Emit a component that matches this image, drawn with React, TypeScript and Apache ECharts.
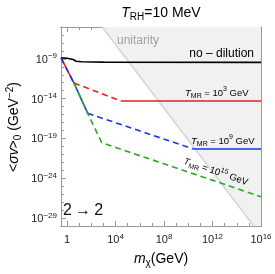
import React, { useEffect, useRef } from "react";
import * as echarts from "echarts";

const FONT = "'Liberation Sans', Arial, sans-serif";

// axis ranges (log10 units)
const X_MIN = -0.5;
const X_MAX = 16;
const Y_MIN = -30;
const Y_MAX = -5;

const xMajorTicks = [0, 4, 8, 12, 16];
const xMinorTicks = [0, 1, 2, 3, 4, 5, 6, 7, 8, 9, 10, 11, 12, 13, 14, 15, 16];
const yMajorTicks = [-29, -24, -19, -14, -9];
const yMinorTicks = [-30, -29, -28, -27, -26, -25, -24, -23, -22, -21, -20, -19, -18, -17, -16, -15, -14, -13, -12, -11, -10, -9, -8, -7, -6, -5];

// curves: [log10 m, log10 <sigma v>]
const noDilution = [[-0.5, -8.88], [0, -8.92], [0.5, -9.08], [0.75, -9.3], [1.2, -9.37], [3, -9.41], [16, -9.44]];
const redSteep = [[-0.5, -8.89], [0.57, -12.04]];
const redDashed = [[0.57, -12.04], [4.45, -14.3]];
const redFlat = [[4.45, -14.3], [16, -14.3]];
const blueSteepDashed = [[-0.5, -8.89], [0.57, -12.04]];
const blueSteep = [[0.57, -12.04], [1.7, -15.84]];
const blueDashed = [[1.7, -15.84], [10.42, -20.33]];
const blueFlat = [[10.42, -20.33], [16, -20.33]];
const greenDashed = [[0.57, -12.04], [1.7, -15.84], [2.86, -19.54], [16, -26.32]];

// unitarity boundary: [log10 m at top, log10 m at bottom]
const unitarityX = [2.9, 15.4];
const unitarityY = [Y_MAX, Y_MIN];

const RED = "#ee1c1c";
const BLUE = "#1a33ee";
const GREEN = "#2aaa22";
const FRAME = "#999999";

const supRich = {
  b: { fontSize: 11, fontFamily: FONT, color: "#222", lineHeight: 14, verticalAlign: "middle" },
  s: { fontSize: 8, fontFamily: FONT, color: "#222", lineHeight: 8, verticalAlign: "top" },
};

function powLabel(v: number) {
  if (v === 0) return "{b|1}";
  const e = v < 0 ? "\u2212" + Math.abs(v) : String(v);
  return "{b|10}{s|" + e + "}";
}

function xAxis(position: string, ticks: number[], len: number, labels: boolean) {
  return {
    type: "value",
    position,
    min: X_MIN,
    max: X_MAX,
    axisLine: { show: true, onZero: false, lineStyle: { color: FRAME, width: 1 } },
    axisTick: { show: true, inside: true, length: len, customValues: ticks, lineStyle: { color: FRAME, width: 1 } },
    axisLabel: labels
      ? { show: true, customValues: xMajorTicks, formatter: (v: number) => powLabel(v), rich: supRich, margin: 6 }
      : { show: false },
    splitLine: { show: false },
  };
}

function yAxis(position: string, ticks: number[], len: number, labels: boolean) {
  return {
    type: "value",
    position,
    min: Y_MIN,
    max: Y_MAX,
    axisLine: { show: true, onZero: false, lineStyle: { color: FRAME, width: 1 } },
    axisTick: { show: true, inside: true, length: len, customValues: ticks, lineStyle: { color: FRAME, width: 1 } },
    axisLabel: labels
      ? { show: true, customValues: yMajorTicks, formatter: (v: number) => powLabel(v), rich: supRich, margin: 4 }
      : { show: false },
    splitLine: { show: false },
  };
}

function line(data: number[][], color: string, dashed: boolean, z: number) {
  return {
    type: "line",
    data,
    xAxisIndex: 0,
    yAxisIndex: 0,
    showSymbol: false,
    symbol: "none",
    silent: true,
    z,
    lineStyle: { color, width: 1.6, type: dashed ? [6, 4] : "solid" },
  };
}

export default function App() {
  const ref = useRef<HTMLDivElement>(null);
  useEffect(() => {
    if (!ref.current) return;
    const chart = echarts.init(ref.current, null, { renderer: "svg" });
    const subRich = (size: number, color: string) => ({
      n: { fontSize: size, fontFamily: FONT, color, lineHeight: size + 4, verticalAlign: "middle" },
      i: { fontSize: size, fontFamily: FONT, color, fontStyle: "italic", lineHeight: size + 4, verticalAlign: "middle" },
      sub: { fontSize: Math.round(size * 0.7), fontFamily: FONT, color, lineHeight: Math.round(size * 0.7), verticalAlign: "bottom" },
      sup: { fontSize: Math.round(size * 0.7), fontFamily: FONT, color, lineHeight: Math.round(size * 0.7), verticalAlign: "top" },
    });
    const option: any = {
      animation: false,
      grid: { left: 61, top: 27, width: 200, height: 199, containLabel: false },
      xAxis: [
        xAxis("bottom", xMajorTicks, 5, true),
        xAxis("bottom", xMinorTicks, 3, false),
        xAxis("top", xMajorTicks, 5, false),
        xAxis("top", xMinorTicks, 3, false),
      ],
      yAxis: [
        yAxis("left", yMajorTicks, 5, true),
        yAxis("left", yMinorTicks, 3, false),
        yAxis("right", yMajorTicks, 5, false),
        yAxis("right", yMinorTicks, 3, false),
      ],
      series: [
        {
          type: "custom",
          xAxisIndex: 0,
          yAxisIndex: 0,
          silent: true,
          z: 1,
          data: [[unitarityX[0], unitarityY[0]]],
          renderItem: (params: any, api: any) => {
            const pts = [
              api.coord([unitarityX[0], unitarityY[0]]),
              api.coord([X_MAX, Y_MAX]),
              api.coord([X_MAX, Y_MIN]),
              api.coord([unitarityX[1], unitarityY[1]]),
            ];
            return { type: "polygon", shape: { points: pts }, style: { fill: "#f1f1f1" } };
          },
        },
        line([[unitarityX[0], unitarityY[0]], [unitarityX[1], unitarityY[1]]], "#d6d6d6", false, 2),
        line(noDilution, "#000000", false, 3),
        line(redSteep, RED, false, 3),
        line(redDashed, RED, true, 3),
        line(redFlat, RED, false, 3),
        line(blueSteepDashed, BLUE, true, 4),
        line(blueSteep, BLUE, false, 4),
        line(blueDashed, BLUE, true, 4),
        line(blueFlat, BLUE, false, 4),
        line(greenDashed, GREEN, true, 5),
      ],
      graphic: [
        {
          type: "text", x: 161, y: 12, z: 100,
          style: { text: "{i|T}{sub|RH}{n|=10 MeV}", align: "center", verticalAlign: "middle", rich: subRich(14, "#111") },
        },
        {
          type: "text", x: 138, y: 40, z: 100,
          style: { text: "unitarity", align: "center", verticalAlign: "middle", font: "12px " + FONT, fill: "#a0a0a0" },
        },
        {
          type: "text", x: 254, y: 53, z: 100,
          style: { text: "no \u2013 dilution", align: "right", verticalAlign: "middle", font: "12px " + FONT, fill: "#000" },
        },
        {
          type: "text", x: 185, y: 92, z: 100,
          style: { text: "{i|T}{sub|MR}{n| = 10}{sup|3}{n| GeV}", align: "left", verticalAlign: "middle", rich: subRich(9.5, RED) },
        },
        {
          type: "text", x: 191, y: 140, z: 100,
          style: { text: "{i|T}{sub|MR}{n| = 10}{sup|9}{n| GeV}", align: "left", verticalAlign: "middle", rich: subRich(9.5, BLUE) },
        },
        {
          type: "text", x: 216, y: 171, z: 100, rotation: -0.33,
          style: { text: "{i|T}{sub|MR}{n| = 10}{sup|15}{n| GeV}", align: "center", verticalAlign: "middle", rich: subRich(9.5, GREEN) },
        },
        {
          type: "text", x: 63, y: 209, z: 100,
          style: { text: "2\u2009\u2192\u20092", align: "left", verticalAlign: "middle", font: "16px " + FONT, fill: "#111" },
        },
        {
          type: "text", x: 161, y: 258, z: 100,
          style: { text: "{i|m}{sub|\u03c7}{n|(GeV)}", align: "center", verticalAlign: "middle", rich: subRich(14, "#111") },
        },
        {
          type: "text", x: 13, y: 127, z: 100, rotation: Math.PI / 2,
          style: { text: "{n|<}{i|\u03c3v}{n|>}{sub|0}{n| (GeV}{sup|\u22122}{n|)}", align: "center", verticalAlign: "middle", rich: subRich(14, "#111") },
        },
      ],
    };
    chart.setOption(option);
    return () => chart.dispose();
  }, []);
  return <div ref={ref} style={{ position: "fixed", left: 0, top: 0, width: 275, height: 274 }} />;
}
